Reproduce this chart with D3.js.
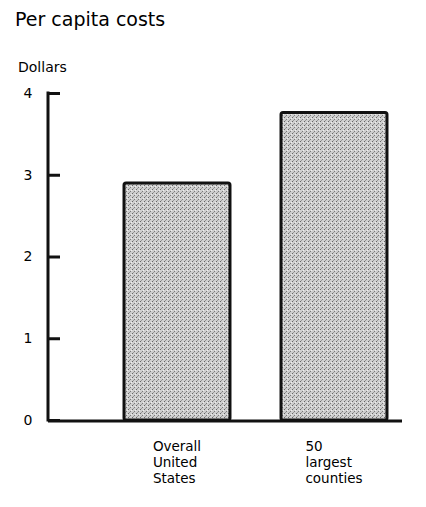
<!DOCTYPE html>
<html>
<head>
<meta charset="utf-8">
<script src="https://cdn.jsdelivr.net/npm/d3@7"></script>
<style>
  body { margin: 0; background: #fff; }
  svg { display: block; font-family: "DejaVu Sans", "Liberation Sans", Arial, sans-serif; }
</style>
</head>
<body>
<svg id="chart" width="426" height="507"></svg>
<script>
let categories = [["Overall", "United", "States"], ["50", "largest", "counties"]];
let values = [2.9, 3.76];
let yTicks = [0, 1, 2, 3, 4];

let svg = d3.select("#chart");

// stippled grey fill like the printed screen
let defs = svg.append("defs");
let pat = defs.append("pattern")
    .attr("id", "stipple")
    .attr("width", 4).attr("height", 4)
    .attr("patternUnits", "userSpaceOnUse");
pat.append("rect").attr("width", 4).attr("height", 4).attr("fill", "#cfcfcf");
pat.append("rect").attr("x", 0).attr("y", 0).attr("width", 1).attr("height", 1).attr("fill", "#666");
pat.append("rect").attr("x", 2).attr("y", 2).attr("width", 1).attr("height", 1).attr("fill", "#7a7a7a");
pat.append("rect").attr("x", 1).attr("y", 3).attr("width", 1).attr("height", 1).attr("fill", "#999");
pat.append("rect").attr("x", 3).attr("y", 1).attr("width", 1).attr("height", 1).attr("fill", "#eee");

let margin = {top: 93, left: 48, right: 24, bottom: 87};
let width = 426 - margin.left - margin.right;
let height = 507 - margin.top - margin.bottom;

let g = svg.append("g").attr("transform", "translate(" + margin.left + "," + margin.top + ")");

let x = d3.scaleBand()
    .domain(d3.range(categories.length))
    .range([50.5, 364.5])
    .paddingInner(0.325)
    .paddingOuter(0.1625);

let y = d3.scaleLinear()
    .domain([0, 4])
    .range([height, 0]);

// titles
svg.append("text")
    .attr("x", 15).attr("y", 26)
    .attr("font-size", 19)
    .text("Per capita costs");

svg.append("text")
    .attr("x", 18).attr("y", 72)
    .attr("font-size", 14)
    .text("Dollars");

// bars
g.selectAll(".bar")
    .data(values)
    .enter().append("rect")
    .attr("class", "bar")
    .attr("x", (d, i) => x(i))
    .attr("y", d => y(d))
    .attr("width", x.bandwidth())
    .attr("height", d => height - y(d))
    .attr("rx", 2)
    .attr("fill", "url(#stipple)")
    .attr("stroke", "#111")
    .attr("stroke-width", 3);

// y axis with inward ticks
let yAxis = g.append("g")
    .call(d3.axisRight(y).tickValues(yTicks).tickSize(12).tickFormat(""));
yAxis.select(".domain").remove();
yAxis.selectAll(".tick line").attr("stroke", "#111").attr("stroke-width", 3);

g.append("line")
    .attr("x1", 0).attr("x2", 0)
    .attr("y1", y(4) - 1.5).attr("y2", height + 1.5)
    .attr("stroke", "#111").attr("stroke-width", 3);

g.append("line")
    .attr("x1", 0).attr("x2", 354)
    .attr("y1", height + 1).attr("y2", height + 1)
    .attr("stroke", "#111").attr("stroke-width", 3);

g.selectAll(".ylab")
    .data(yTicks)
    .enter().append("text")
    .attr("class", "ylab")
    .attr("x", -20)
    .attr("y", d => y(d))
    .attr("dy", "0.35em")
    .attr("text-anchor", "middle")
    .attr("font-size", 14)
    .text(d => d);

// category labels, left aligned block centered under bar
categories.forEach((lines, i) => {
    let block = g.append("g");
    lines.forEach((l, j) => {
        block.append("text")
            .attr("font-size", 13.5)
            .attr("x", 0)
            .attr("y", height + 31 + j * 16)
            .text(l);
    });
    let w = block.node().getBBox().width;
    block.attr("transform", "translate(" + (x(i) + x.bandwidth() / 2 - w / 2) + ",0)");
});
</script>
</body>
</html>
